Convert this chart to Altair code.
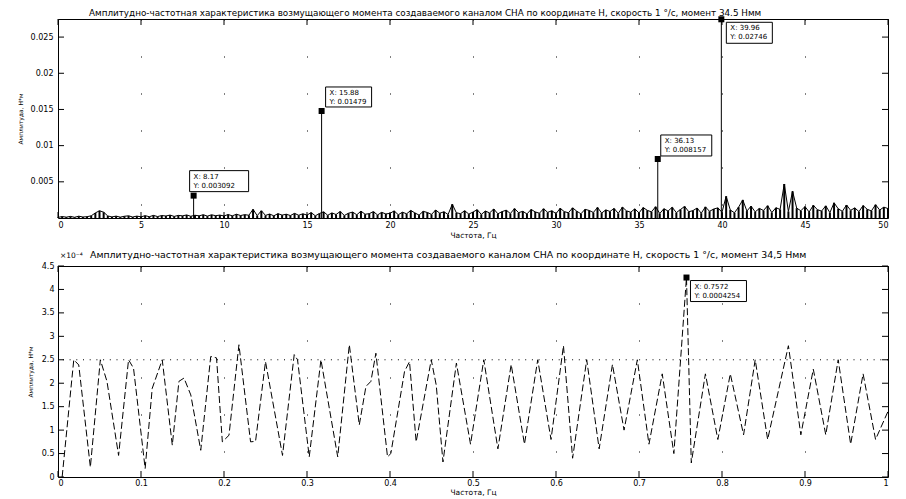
import altair as alt
import pandas as pd

FONT = "DejaVu Sans"

# ---------------- top panel data ----------------
top_title = ("Амплитудно-частотная характеристика возмущающего момента создаваемого "
             "каналом СНА по координате Н, скорость 1 °/с, момент 34.5 Нмм")
top_xticks = [0, 5, 10, 15, 20, 25, 30, 35, 40, 45, 50]
top_yticks = [0.005, 0.01, 0.015, 0.02, 0.025]
noise_step = 0.25
# noise floor amplitude, units of 1e-5 N*m, one value every 0.25 Hz from 0 to 50 Hz
noise_e5 = [
    8, 20, 12, 22, 10, 25, 14, 18, 30, 70, 100, 80, 28, 15, 26, 12, 24, 30, 14, 26,
    16, 32, 18, 36, 20, 34, 28, 40, 22, 36, 30, 42, 24, 38, 30, 45, 26, 44, 32, 40,
    28, 48, 30, 52, 34, 46, 38, 120, 32, 100, 36, 55, 30, 60, 40, 52, 34, 64, 38, 58,
    40, 75, 30, 62, 85, 38, 70, 48, 90, 35, 66, 82, 44, 95, 52, 60, 88, 42, 78, 56,
    64, 98, 45, 80, 58, 104, 70, 40, 92, 76, 50, 110, 66, 86, 48, 190, 72, 60, 100, 54,
    82, 115, 50, 96, 70, 124, 58, 88, 108, 62, 130, 74, 92, 56, 118, 84, 66, 128, 78, 100,
    60, 134, 88, 72, 140, 94, 58, 120, 104, 76, 146, 68, 112, 90, 132, 64, 150, 98, 80, 126,
    70, 144, 106, 84, 156, 62, 128, 96, 148, 74, 118, 160, 86, 102, 138, 66, 154, 92, 124, 140,
    80, 300, 110, 72, 150, 250, 96, 164, 84, 132, 104, 170, 76, 142, 118, 470, 90, 370, 136, 100,
    158, 82, 176, 114, 96, 168, 74, 210, 128, 92, 180, 106, 140, 88, 172, 120, 98, 184, 110, 150,
    130,
]
peak_f = [8.17, 15.88, 36.13, 39.96]
peak_v = [0.003092, 0.01479, 0.008157, 0.02746]
peak_l1 = ["X: 8.17", "X: 15.88", "X: 36.13", "X: 39.96"]
peak_l2 = ["Y: 0.003092", "Y: 0.01479", "Y: 0.008157", "Y: 0.02746"]

# ---------------- bottom panel data ----------------
bot_title = ("Амплитудно-частотная характеристика возмущающего момента создаваемого "
             "каналом СНА по координате Н, скорость 1 °/с, момент 34,5 Нмм")
bot_xticks = [0, 0.1, 0.2, 0.3, 0.4, 0.5, 0.6, 0.7, 0.8, 0.9, 1]
bot_yticks = [0, 0.5, 1, 1.5, 2, 2.5, 3, 3.5, 4, 4.5]
bot_f = [0.005, 0.019, 0.025, 0.039, 0.051, 0.059, 0.073, 0.085, 0.091, 0.105,
         0.1135, 0.1256, 0.1377, 0.1457, 0.1518, 0.160, 0.172, 0.184, 0.191, 0.198,
         0.206, 0.218, 0.232, 0.238, 0.250, 0.2705, 0.2846, 0.2886, 0.3027, 0.3168,
         0.337, 0.351, 0.363, 0.371, 0.377, 0.383, 0.397, 0.401, 0.4175, 0.4235,
         0.4315, 0.4497, 0.4557, 0.4638, 0.480,
         0.497, 0.513, 0.530, 0.546, 0.562, 0.578, 0.594, 0.609, 0.620, 0.637,
         0.652, 0.668, 0.682, 0.698, 0.712, 0.728, 0.742, 0.7572, 0.763, 0.780,
         0.795, 0.810, 0.826, 0.840, 0.855, 0.880, 0.895, 0.910, 0.925, 0.940,
         0.955, 0.970, 0.985, 1.0]
# amplitude in units of 1e-4 N*m
bot_v = [0.0, 2.5, 2.39, 0.21, 2.5, 2.04, 0.46, 2.5, 2.32, 0.18,
         1.89, 2.5, 0.68, 2.04, 2.11, 1.75, 0.57, 2.57, 2.54, 0.75,
         0.89, 2.82, 0.75, 0.76, 2.46, 0.46, 2.61, 2.5, 0.43, 2.5,
         0.43, 2.82, 1.11, 1.93, 2.04, 2.64, 0.43, 0.5, 2.25, 2.46,
         0.75, 2.5, 1.96, 0.32, 2.43,
         0.7, 2.5, 0.6, 2.4, 0.7, 2.5, 0.8, 2.8, 0.4, 2.5,
         0.6, 2.4, 1.0, 2.5, 0.7, 2.2, 0.5, 4.254, 0.3, 2.2,
         0.8, 2.2, 0.9, 2.5, 0.8, 2.8, 0.9, 2.3, 0.9, 2.5,
         0.7, 2.2, 0.8, 1.4]
bot_threshold = 2.5
bot_tip = (0.7572, 4.254, "X: 0.7572", "Y: 0.0004254")
exp_label = "×10⁻⁴"

# ---------------- layout ----------------
W = 830
H1 = 199
H2 = 211
TICK = 6


def inner_ticks(xvals, yvals, xs, ys, ax, ay, w, h):
    """Inward-pointing MATLAB style ticks on all four sides of the box."""
    xd = pd.DataFrame({"t": xvals})
    yd = pd.DataFrame({"t": yvals})
    X = alt.X("t:Q", scale=xs, axis=ax)
    Y = alt.Y("t:Q", scale=ys, axis=ay)
    r = dict(color="black", strokeWidth=1)
    return [
        alt.Chart(xd).mark_rule(**r).encode(x=X, y=alt.value(h), y2=alt.value(h - TICK)),
        alt.Chart(xd).mark_rule(**r).encode(x=X, y=alt.value(0), y2=alt.value(TICK)),
        alt.Chart(yd).mark_rule(**r).encode(y=Y, x=alt.value(0), x2=alt.value(TICK)),
        alt.Chart(yd).mark_rule(**r).encode(y=Y, x=alt.value(w - TICK), x2=alt.value(w)),
    ]


def tip_layers(f, v, l1, l2, bx, by, bw, bh, xs, ys, ax, ay):
    d = pd.DataFrame({"f": [f], "v": [v], "l1": [l1], "l2": [l2]})
    base = alt.Chart(d)
    X = alt.X("f:Q", scale=xs, axis=ax)
    Y = alt.Y("v:Q", scale=ys, axis=ay)
    box = base.mark_rect(fill="white", stroke="black", strokeWidth=1,
                         xOffset=bx, x2Offset=bx + bw,
                         yOffset=by, y2Offset=by + bh).encode(
        x=X, x2="f:Q", y=Y, y2="v:Q")
    t1 = base.mark_text(align="left", baseline="middle", dx=bx + 4, dy=by + 6,
                        font=FONT, fontSize=7, color="black").encode(x=X, y=Y, text="l1:N")
    t2 = base.mark_text(align="left", baseline="middle", dx=bx + 4, dy=by + 15,
                        font=FONT, fontSize=7, color="black").encode(x=X, y=Y, text="l2:N")
    mk = base.mark_square(size=36, color="black", opacity=1).encode(x=X, y=Y)
    return [box, t1, t2, mk]


def title_layer(text, dx, dy, size):
    return alt.Chart(pd.DataFrame({"t": [text]})).mark_text(
        align="left", baseline="alphabetic", font=FONT, fontSize=size, color="black"
    ).encode(x=alt.value(dx), y=alt.value(dy), text="t:N")


# ---- top
noise_df = pd.DataFrame({"f": [i * noise_step for i in range(len(noise_e5))],
                         "v": [n * 1e-5 for n in noise_e5]})
peaks_df = pd.DataFrame({"f": peak_f, "v": peak_v})
xs1 = alt.Scale(domain=[0, 50], nice=False, zero=False)
ys1 = alt.Scale(domain=[0, 0.0275], nice=False, zero=False)
ax1 = alt.Axis(values=top_xticks, format="~g", tickSize=0, labelPadding=3, domain=False,
               grid=True, gridDash=[1, 36], gridColor="black", gridOpacity=1,
               title="Частота, Гц", titlePadding=2)
ay1 = alt.Axis(values=top_yticks, format="~g", tickSize=0, labelPadding=5, domain=False,
               grid=False, title="Амплитуда, Н*м", titlePadding=6, minExtent=29, maxExtent=29)

line1 = alt.Chart(noise_df).mark_line(color="black", strokeWidth=1).encode(
    x=alt.X("f:Q", scale=xs1, axis=ax1),
    y=alt.Y("v:Q", scale=ys1, axis=ay1),
)
bars1 = alt.Chart(noise_df).mark_rule(color="black", strokeWidth=2).encode(
    x=alt.X("f:Q", scale=xs1, axis=ax1),
    y=alt.Y("v:Q", scale=ys1, axis=ay1),
    y2=alt.datum(0),
)
spikes1 = alt.Chart(peaks_df).mark_rule(color="black", strokeWidth=1).encode(
    x=alt.X("f:Q", scale=xs1, axis=ax1),
    y=alt.Y("v:Q", scale=ys1, axis=ay1),
    y2=alt.datum(0),
)
tip_geom = [(-4, -25, 59, 21), (4, -24, 46, 20), (3, -24, 51, 21), (5, 3, 46, 21)]
top_layers = [line1, bars1, spikes1] + inner_ticks(top_xticks, top_yticks, xs1, ys1,
                                                   ax1, ay1, W, H1)
for i in range(len(peak_f)):
    bx, by, bw, bh = tip_geom[i]
    top_layers += tip_layers(peak_f[i], peak_v[i], peak_l1[i], peak_l2[i],
                             bx, by, bw, bh, xs1, ys1, ax1, ay1)
top_layers.append(title_layer(top_title, 31, -3, 8.8))

top = alt.layer(*top_layers).properties(width=W, height=H1)

# ---- bottom
bot_df = pd.DataFrame({"f": bot_f, "v": bot_v})
thr_df = pd.DataFrame({"v": [bot_threshold]})
exp_df = pd.DataFrame({"t": [exp_label]})
xs2 = alt.Scale(domain=[0, 1], nice=False, zero=False)
ys2 = alt.Scale(domain=[0, 4.5], nice=False, zero=False)
ax2 = alt.Axis(values=bot_xticks, format="~g", tickSize=0, labelPadding=2, domain=False,
               grid=True, gridDash=[1, 36], gridColor="black", gridOpacity=1,
               title="Частота, Гц", titlePadding=1)
ay2 = alt.Axis(values=bot_yticks, format="~g", tickSize=0, labelPadding=4, domain=False,
               grid=False, title="Амплитуда, Н*м", titlePadding=6, minExtent=19, maxExtent=19)

line2 = alt.Chart(bot_df).mark_line(color="black", strokeWidth=1, strokeDash=[7, 3]).encode(
    x=alt.X("f:Q", scale=xs2, axis=ax2),
    y=alt.Y("v:Q", scale=ys2, axis=ay2),
)
thr2 = alt.Chart(thr_df).mark_rule(color="black", strokeWidth=1, strokeDash=[1, 5.7]).encode(
    y=alt.Y("v:Q", scale=ys2, axis=ay2),
)
exp2 = alt.Chart(exp_df).mark_text(align="left", baseline="middle", font=FONT,
                                   fontSize=7.5, color="black").encode(
    x=alt.value(2), y=alt.value(-10), text="t:N")
bot_layers = [line2, thr2] + inner_ticks(bot_xticks, bot_yticks, xs2, ys2, ax2, ay2, W, H2)
bot_layers += [exp2]
bot_layers += tip_layers(bot_tip[0], bot_tip[1], bot_tip[2], bot_tip[3], 4, 3, 56, 21,
                         xs2, ys2, ax2, ay2)
bot_layers.append(title_layer(bot_title, 32, -8, 9.4))

bottom = alt.layer(*bot_layers).properties(width=W, height=H2)

chart = alt.vconcat(top, bottom, spacing=48, bounds="flush",
                    padding={"left": 8, "top": 0, "right": 0, "bottom": 0}).configure_view(
    stroke="black", strokeWidth=1
).configure_axis(
    labelFont=FONT, labelFontSize=8, labelColor="black",
    titleFont=FONT, titleFontSize=7.5, titleColor="black", titleFontWeight="normal",
).configure_axisY(titleFontSize=6)

chart.save("out.html", embed_options={"renderer": "svg", "actions": False})
